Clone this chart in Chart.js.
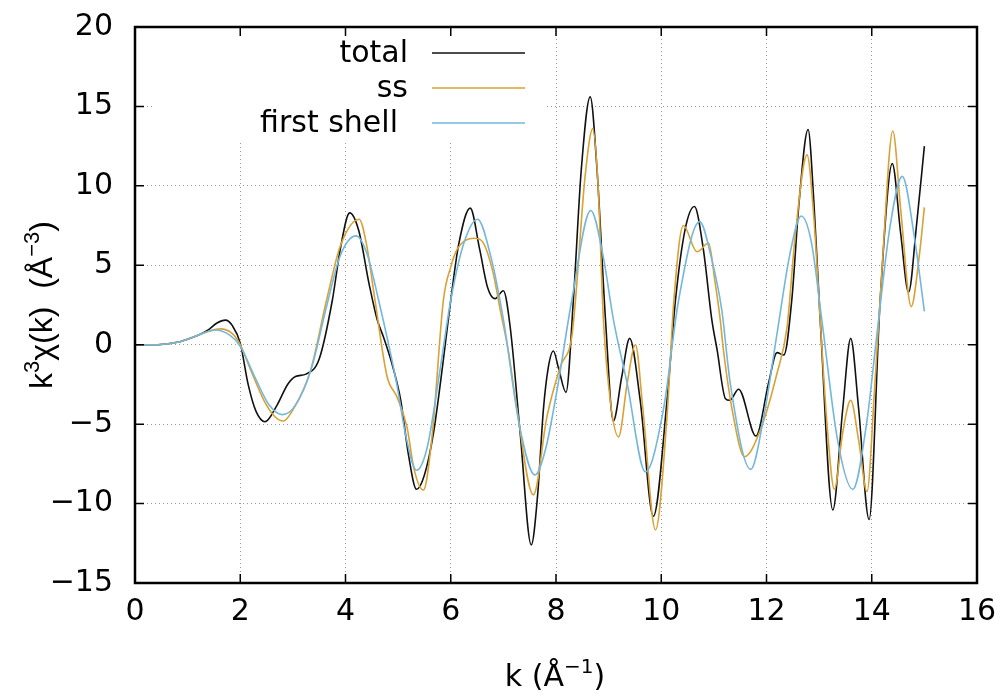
<!DOCTYPE html>
<html>
<head>
<meta charset="utf-8">
<script src="https://cdn.jsdelivr.net/npm/chart.js@4"></script>
<style>
  html, body { margin: 0; padding: 0; background: #fff; }
  #wrap { width: 1005px; height: 698px; }
</style>
</head>
<body>
<div id="wrap"><canvas id="chi" width="1005" height="698"></canvas></div>
<script>
// k values (1/A) and k^3 chi(k), one pair of arrays per curve
var kTotal = [0, 0.4, 0.6, 0.8, 1.0, 1.2, 1.4, 1.55, 1.72, 1.85, 2.0, 2.15, 2.3, 2.47, 2.7, 2.9, 3.05, 3.25, 3.5, 3.75, 3.9, 4.08, 4.25, 4.45, 4.6, 4.72, 4.9, 5.05, 5.2, 5.35, 5.5, 5.67, 5.85, 6.0, 6.15, 6.37, 6.55, 6.7, 6.84, 7.0, 7.13, 7.32, 7.53, 7.65, 7.76, 7.85, 7.95, 8.05, 8.19, 8.33, 8.48, 8.65, 8.78, 8.94, 9.09, 9.25, 9.4, 9.6, 9.85, 10.11, 10.27, 10.45, 10.63, 10.8, 10.96, 11.06, 11.22, 11.3, 11.47, 11.8, 12.04, 12.2, 12.33, 12.48, 12.62, 12.79, 12.9, 13.02, 13.26, 13.45, 13.6, 13.75, 13.95, 14.16, 14.39, 14.55, 14.7, 14.85, 15.0];
var total  = [0, 0, 0.05, 0.15, 0.35, 0.6, 0.95, 1.35, 1.55, 1.2, 0.1, -2.5, -4.2, -4.85, -3.8, -2.5, -2.0, -1.85, -0.9, 2.8, 6.0, 8.3, 7.2, 3.8, 1.6, 0.5, -1.4, -3.5, -7.0, -9.1, -8.2, -5.6, -1.2, 2.8, 6.3, 8.6, 6.0, 3.6, 2.9, 3.4, 1.1, -5.6, -12.6, -9.5, -4.1, -1.5, -0.4, -1.5, -3.0, 2.8, 11.0, 15.6, 11.0, 1.6, -4.8, -2.0, 0.4, -3.5, -10.8, -3.5, 2.8, 7.2, 8.7, 6.0, 1.6, -0.3, -3.4, -3.5, -2.8, -5.75, -2.4, -0.5, -0.65, 2.8, 9.0, 13.55, 9.0, 1.6, -10.4, -4.0, 0.4, -4.0, -11.0, 2.8, 11.4, 7.0, 3.3, 7.5, 12.5];

var kSs = [0, 0.4, 0.6, 0.8, 1.0, 1.2, 1.4, 1.62, 1.85, 2.0, 2.2, 2.45, 2.65, 2.82, 3.0, 3.33, 3.64, 3.9, 4.26, 4.4, 4.56, 4.79, 4.98, 5.17, 5.3, 5.48, 5.65, 5.86, 6.0, 6.12, 6.25, 6.45, 6.6, 6.8, 6.94, 7.1, 7.25, 7.57, 7.83, 8.08, 8.3, 8.37, 8.55, 8.7, 8.8, 8.9, 9.05, 9.19, 9.35, 9.51, 9.65, 9.89, 10.11, 10.24, 10.42, 10.68, 10.9, 11.02, 11.12, 11.18, 11.37, 11.58, 11.88, 12.2, 12.39, 12.55, 12.77, 12.9, 13.02, 13.15, 13.29, 13.45, 13.6, 13.75, 13.91, 14.05, 14.2, 14.4, 14.55, 14.75, 14.9, 15.0];
var ss  = [0, 0, 0.05, 0.15, 0.35, 0.6, 0.85, 1.0, 0.7, 0.0, -1.6, -3.5, -4.5, -4.8, -4.1, -1.7, 2.8, 6.2, 7.9, 6.3, 2.8, -2.0, -3.3, -5.2, -7.8, -9.15, -5.6, 2.8, 4.9, 6.0, 6.5, 6.7, 6.5, 4.6, 2.2, -0.5, -3.9, -9.45, -4.5, -1.4, 0.5, 2.8, 10.5, 13.6, 10.0, 1.6, -4.0, -5.8, -2.5, 0.0, -4.0, -11.65, -4.5, 2.8, 7.5, 5.85, 6.4, 4.0, 1.6, -0.3, -4.5, -7.05, -5.4, -1.8, 1.1, 7.0, 11.95, 8.0, 1.6, -5.0, -9.1, -5.5, -3.5, -6.0, -9.25, -3.0, 5.0, 13.45, 8.5, 2.4, 5.5, 8.65];

var kShell = [0, 0.4, 0.6, 0.8, 1.0, 1.2, 1.52, 1.8, 2.0, 2.3, 2.55, 2.8, 3.05, 3.35, 3.64, 3.9, 4.2, 4.4, 4.63, 4.97, 5.15, 5.35, 5.55, 5.8, 6.0, 6.25, 6.51, 6.75, 7.0, 7.3, 7.6, 7.8, 8.02, 8.3, 8.66, 8.9, 9.09, 9.35, 9.7, 10.04, 10.33, 10.73, 10.95, 11.15, 11.31, 11.7, 11.95, 12.2, 12.45, 12.66, 12.85, 13.05, 13.35, 13.64, 13.9, 14.1, 14.35, 14.58, 14.8, 15.0];
var shell  = [0, 0, 0.05, 0.15, 0.35, 0.6, 0.93, 0.6, -0.1, -2.2, -3.8, -4.4, -3.8, -1.5, 2.4, 5.6, 6.85, 5.8, 2.8, -2.4, -5.8, -7.9, -6.5, -1.5, 2.8, 6.4, 7.9, 5.7, 1.6, -5.0, -8.2, -6.6, -2.85, 2.8, 8.45, 5.5, 1.6, -2.4, -8.0, -4.1, 2.8, 7.75, 5.5, 2.2, -2.4, -7.85, -4.5, 0.7, 5.8, 8.1, 6.5, 1.6, -6.0, -9.1, -5.0, 0.7, 7.5, 10.6, 7.0, 2.1];

var seriesNames = ['total', 'ss', 'first shell'];
var seriesColors = ['#111111', '#d9a136', '#74b7dc'];

// the reference text is wide, DejaVu Sans matches its widths best
var FONT = '"DejaVu Sans", Verdana, sans-serif';
var VFONT = '"Liberation Sans", Arial, Helvetica, sans-serif';

function pts(ks, vs) {
  var out = [];
  for (var i = 0; i < ks.length; i++) out.push({x: ks[i], y: vs[i]});
  return out;
}

// draws a string with superscript pieces, e.g. [['k'],['3',1],['x']]
function richText(ctx, parts, x, y, size, fam) {
  var supSize = Math.round(size * 0.68);
  var w = 0;
  parts.forEach(function(p) {
    ctx.font = (p[1] ? supSize : size) + 'px ' + fam;
    w += ctx.measureText(p[0]).width;
  });
  var cx = x - w / 2;
  ctx.textAlign = 'left';
  ctx.textBaseline = 'alphabetic';
  parts.forEach(function(p) {
    ctx.font = (p[1] ? supSize : size) + 'px ' + fam;
    ctx.fillText(p[0], cx, p[1] ? y - size * 0.42 : y);
    cx += ctx.measureText(p[0]).width;
  });
}

var gnuplotLook = {
  id: 'gnuplotLook',
  beforeDatasetsDraw: function(chart) {
    // opaque key box hides the grid behind it
    var ctx = chart.ctx;
    ctx.save();
    ctx.fillStyle = '#fff';
    ctx.fillRect(155, 28, 392, 114);
    ctx.restore();
  },
  afterDatasetsDraw: function(chart) {
    var ctx = chart.ctx, a = chart.chartArea;
    var xs = chart.scales.x, ys = chart.scales.y;
    ctx.save();
    // inward tick marks on all four sides
    ctx.strokeStyle = '#000';
    ctx.lineWidth = 1.5;
    ctx.beginPath();
    xs.ticks.forEach(function(t) {
      var px = xs.getPixelForValue(t.value);
      ctx.moveTo(px, a.bottom); ctx.lineTo(px, a.bottom - 9);
      ctx.moveTo(px, a.top); ctx.lineTo(px, a.top + 9);
    });
    ys.ticks.forEach(function(t) {
      var py = ys.getPixelForValue(t.value);
      ctx.moveTo(a.left, py); ctx.lineTo(a.left + 9, py);
      ctx.moveTo(a.right, py); ctx.lineTo(a.right - 9, py);
    });
    ctx.stroke();
    // frame
    ctx.lineWidth = 2.5;
    ctx.strokeRect(a.left, a.top, a.right - a.left, a.bottom - a.top);

    // key
    var keyY = [54, 89, 124];
    var keyX = [408, 408, 398];
    ctx.font = '30px ' + FONT;
    ctx.fillStyle = '#000';
    ctx.textAlign = 'right';
    ctx.textBaseline = 'middle';
    for (var i = 0; i < 3; i++) {
      ctx.fillText(seriesNames[i], keyX[i], keyY[i]);
      ctx.strokeStyle = seriesColors[i];
      ctx.lineWidth = 1.6;
      ctx.beginPath();
      ctx.moveTo(432, keyY[i] - 1);
      ctx.lineTo(525, keyY[i] - 1);
      ctx.stroke();
    }

    // axis titles
    ctx.fillStyle = '#000';
    richText(ctx, [['k ('], ['\u00c5'], ['\u22121', 1], [')']], 555, 686, 30, FONT);
    ctx.translate(52, 305);
    ctx.rotate(-Math.PI / 2);
    richText(ctx, [['k'], ['3', 1], ['\u03c7(k)  (\u00c5'], ['\u22123', 1], [')']], 0, 0, 32, VFONT);
    ctx.restore();
  }
};

var datasets = [
  {label: seriesNames[0], data: pts(kTotal, total), borderColor: seriesColors[0], order: 3},
  {label: seriesNames[1], data: pts(kSs, ss), borderColor: seriesColors[1], order: 2},
  {label: seriesNames[2], data: pts(kShell, shell), borderColor: seriesColors[2], order: 1}
];
datasets.forEach(function(d) {
  d.borderWidth = 1.6;
  d.pointRadius = 0;
  d.fill = false;
  d.cubicInterpolationMode = 'monotone';
});

var ctx = document.getElementById('chi');
var chiChart = new Chart(ctx, {
  type: 'line',
  data: {datasets: datasets},
  options: {
    responsive: false,
    animation: false,
    layout: {padding: {top: 27, right: 28, left: 0, bottom: 0}},
    plugins: {legend: {display: false}, tooltip: {enabled: false}},
    scales: {
      x: {
        type: 'linear', min: 0, max: 16,
        ticks: {stepSize: 2, color: '#000', font: {family: FONT, size: 30}, padding: 11, maxRotation: 0},
        grid: {color: '#9a9a9a', lineWidth: 1, drawTicks: false},
        border: {display: false, dash: [1, 3]},
        afterFit: function(s) { s.height = 115; s.paddingLeft = 0; s.paddingRight = 0; }
      },
      y: {
        min: -15, max: 20,
        ticks: {
          stepSize: 5, color: '#000', font: {family: FONT, size: 30}, padding: 22,
          callback: function(v) { return String(v).replace('-', '\u2212'); }
        },
        grid: {color: '#9a9a9a', lineWidth: 1, drawTicks: false},
        border: {display: false, dash: [1, 3]},
        afterFit: function(s) { s.width = 135; s.paddingTop = 0; s.paddingBottom = 0; }
      }
    }
  },
  plugins: [gnuplotLook]
});
</script>
</body>
</html>
